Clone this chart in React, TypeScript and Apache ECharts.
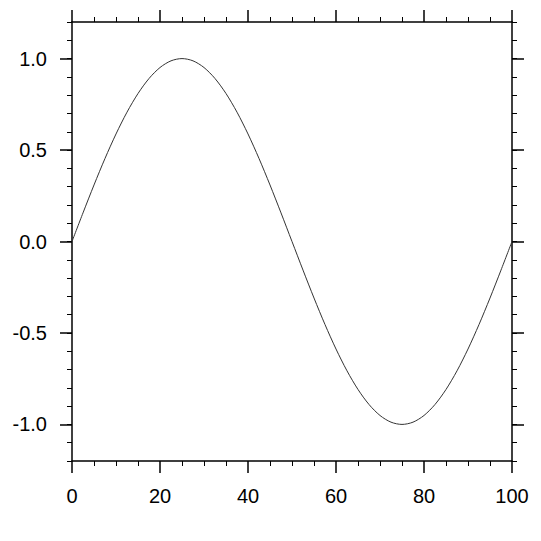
import React, { useEffect, useRef } from "react";
import * as echarts from "echarts";

const xValues = [
  0, 2.5, 5, 7.5, 10, 12.5, 15, 17.5, 20, 22.5, 25, 27.5, 30, 32.5, 35, 37.5, 40, 42.5, 45, 47.5,
  50, 52.5, 55, 57.5, 60, 62.5, 65, 67.5, 70, 72.5, 75, 77.5, 80, 82.5, 85, 87.5, 90, 92.5, 95, 97.5, 100,
];
const yValues = [
  0, 0.1564, 0.309, 0.454, 0.5878, 0.7071, 0.809, 0.891, 0.9511, 0.9877, 1, 0.9877, 0.9511, 0.891, 0.809,
  0.7071, 0.5878, 0.454, 0.309, 0.1564, 0, -0.1564, -0.309, -0.454, -0.5878, -0.7071, -0.809, -0.891,
  -0.9511, -0.9877, -1, -0.9877, -0.9511, -0.891, -0.809, -0.7071, -0.5878, -0.454, -0.309, -0.1564, 0,
];
const yMajorTicks = [-1, -0.5, 0, 0.5, 1];

const FONT = "Liberation Sans, Arial, Helvetica, sans-serif";

export default function App() {
  const ref = useRef<HTMLDivElement>(null);
  useEffect(() => {
    if (!ref.current) return;
    const chart = echarts.init(ref.current, null, { renderer: "svg" });
    const axisLine = { show: true, onZero: false, lineStyle: { color: "#000", width: 1.5 } };
    const xBase = {
      type: "value" as const,
      min: 0,
      max: 100,
      interval: 20,
      splitLine: { show: false },
      axisLine,
      axisTick: { show: true, inside: false, length: 12, lineStyle: { color: "#000", width: 1.5 } },
      minorTick: { show: true, splitNumber: 4, length: 5, lineStyle: { color: "#000", width: 1 } },
    };
    const yMajor = {
      type: "value" as const,
      min: -1.2,
      max: 1.2,
      interval: 0.1,
      splitLine: { show: false },
      axisLine,
      axisTick: {
        show: true,
        inside: false,
        length: 12,
        customValues: yMajorTicks,
        lineStyle: { color: "#000", width: 1.5 },
      },
    };
    const yMinor = {
      type: "value" as const,
      min: -1.2,
      max: 1.2,
      interval: 0.1,
      splitLine: { show: false },
      axisLine: { show: false, onZero: false },
      axisLabel: { show: false },
      axisTick: { show: true, inside: false, length: 5, lineStyle: { color: "#000", width: 1 } },
    };
    chart.setOption({
      animation: false,
      backgroundColor: "#fff",
      grid: { left: 72, top: 22, width: 440, height: 439, containLabel: false },
      xAxis: [
        {
          ...xBase,
          position: "bottom",
          axisLabel: { show: true, margin: 25, color: "#000", fontSize: 20, fontFamily: FONT },
        },
        { ...xBase, position: "top", axisLabel: { show: false } },
      ],
      yAxis: [
        {
          ...yMajor,
          position: "left",
          axisLabel: {
            show: true,
            margin: 25,
            color: "#000",
            fontSize: 20,
            fontFamily: FONT,
            customValues: yMajorTicks,
            formatter: (v: number) => v.toFixed(1),
          },
        },
        { ...yMinor, position: "left" },
        { ...yMajor, position: "right", axisLabel: { show: false } },
        { ...yMinor, position: "right" },
      ],
      series: [
        {
          type: "line",
          xAxisIndex: 0,
          yAxisIndex: 0,
          data: xValues.map((x, i) => [x, yValues[i]]),
          showSymbol: false,
          smooth: 0.3,
          lineStyle: { color: "#333", width: 1 },
        },
      ],
    });
    return () => chart.dispose();
  }, []);
  return <div ref={ref} style={{ position: "fixed", left: 0, top: 0, width: 541, height: 541 }} />;
}
